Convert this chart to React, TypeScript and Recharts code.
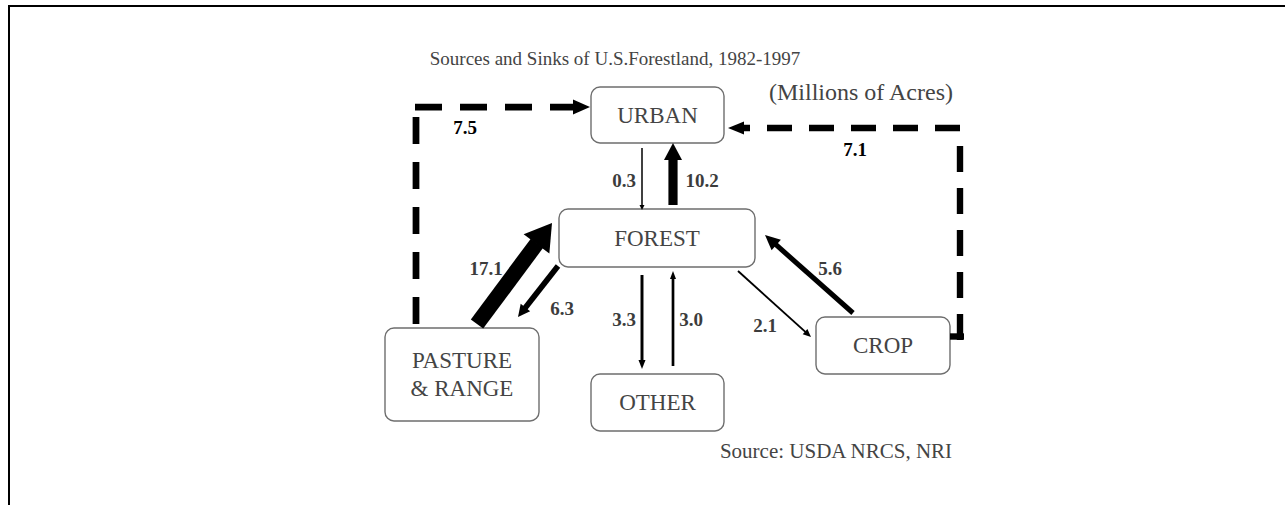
import React from 'react';
import { ComposedChart, XAxis, YAxis, ReferenceArea, ReferenceLine, ReferenceDot } from 'recharts';

// ---------- DATA ----------
const title = 'Sources and Sinks of U.S.Forestland, 1982-1997';
const unitsNote = '(Millions of Acres)';
const sourceNote = 'Source: USDA NRCS, NRI';

const landUses = ['URBAN', 'FOREST', 'PASTURE & RANGE', 'OTHER', 'CROP'];
const landUseLines = [['URBAN'], ['FOREST'], ['PASTURE', '& RANGE'], ['OTHER'], ['CROP']];

const flowFrom = ['FOREST', 'URBAN', 'PASTURE & RANGE', 'CROP', 'PASTURE & RANGE', 'FOREST', 'FOREST', 'OTHER', 'FOREST', 'CROP'];
const flowTo = ['URBAN', 'FOREST', 'URBAN', 'URBAN', 'FOREST', 'PASTURE & RANGE', 'OTHER', 'FOREST', 'CROP', 'FOREST'];
const flowValues = [10.2, 0.3, 7.5, 7.1, 17.1, 6.3, 3.3, 3.0, 2.1, 5.6];
const flowDashed = [false, false, true, true, false, false, false, false, false, false];

// ---------- LAYOUT (diagram coordinates, not data) ----------
const W = 1285;
const H = 505;
const FONT = "'Liberation Serif', 'Times New Roman', Times, serif";

const nodeBoxes: Record<string, [number, number, number, number]> = {
  URBAN: [591, 724, 87, 143],
  FOREST: [559, 755, 209, 267],
  'PASTURE & RANGE': [385, 539, 328, 421],
  OTHER: [591, 724, 374, 431],
  CROP: [816, 950, 317, 374],
};

type Leg = { pts: [[number, number], [number, number]]; head?: [number, number]; dash?: string };
const flowRoutes: Leg[][] = [
  [{ pts: [[673, 205], [673, 143]], head: [17, 18] }],
  [{ pts: [[642, 148], [642, 210]], head: [5, 5] }],
  [
    { pts: [[416, 117], [416, 324]], dash: '27 18' },
    { pts: [[415, 107], [590, 107]], head: [17, 15], dash: '27 18' },
  ],
  [
    { pts: [[950, 336.5], [964, 336.5]] },
    { pts: [[960, 340], [960, 145]], dash: '26 16' },
    { pts: [[960, 128], [728, 128]], head: [16, 13], dash: '25 17' },
  ],
  [{ pts: [[477, 324], [552, 223]], head: [26, 32] }],
  [{ pts: [[558, 266], [518, 317]], head: [12, 12] }],
  [{ pts: [[642, 275], [642, 369]], head: [9, 7] }],
  [{ pts: [[673, 366], [673, 271]], head: [8, 6] }],
  [{ pts: [[738, 271], [811, 337]], head: [8, 7] }],
  [{ pts: [[853, 313], [765, 235]], head: [15, 14] }],
];
const flowLabelPos: [number, number][] = [
  [702, 180], [624, 180], [465, 127], [855, 149], [486, 268],
  [562, 308], [624, 319], [691, 319], [765, 325], [830, 268],
];

const widthFor = (v: number) => Math.max(1.5, v * 0.9);

function arrowShape(w: number, head?: [number, number], dash?: string) {
  return (p: any) => {
    const { x1, y1, x2, y2 } = p;
    if ([x1, y1, x2, y2].some((v) => typeof v !== 'number' || isNaN(v))) return <g />;
    const dx = x2 - x1;
    const dy = y2 - y1;
    const len = Math.hypot(dx, dy) || 1;
    const ux = dx / len;
    const uy = dy / len;
    const nx = -uy;
    const ny = ux;
    const hl = head ? head[0] : 0;
    const hw = head ? head[1] : 0;
    const neckX = x2 - ux * hl;
    const neckY = y2 - uy * hl;
    const ex = head ? neckX + ux * 0.8 : x2;
    const ey = head ? neckY + uy * 0.8 : y2;
    return (
      <g>
        <line x1={x1} y1={y1} x2={ex} y2={ey} stroke="#000" strokeWidth={w} strokeDasharray={dash} strokeLinecap="butt" />
        {head && (
          <polygon
            points={`${x2},${y2} ${neckX + (nx * hw) / 2},${neckY + (ny * hw) / 2} ${neckX - (nx * hw) / 2},${neckY - (ny * hw) / 2}`}
            fill="#000"
          />
        )}
      </g>
    );
  };
}

function textShape(lines: string[], size: number, color: string, weight: string | number = 'normal', lineGap = 28) {
  return (p: any) => {
    const { cx, cy } = p;
    if (typeof cx !== 'number' || typeof cy !== 'number') return <g />;
    const off = ((lines.length - 1) * lineGap) / 2;
    return (
      <g>
        {lines.map((t, i) => (
          <text
            key={i}
            x={cx}
            y={cy - off + i * lineGap}
            textAnchor="middle"
            dominantBaseline="central"
            fontFamily={FONT}
            fontSize={size}
            fontWeight={weight}
            fill={color}
          >
            {t}
          </text>
        ))}
      </g>
    );
  };
}

function boxShape(lines: string[]) {
  return (p: any) => {
    const { x, y, width, height } = p;
    if ([x, y, width, height].some((v) => typeof v !== 'number' || isNaN(v))) return <g />;
    const cx = x + width / 2;
    const cy = y + height / 2;
    const gap = 28;
    const off = ((lines.length - 1) * gap) / 2;
    return (
      <g>
        <rect x={x} y={y} width={width} height={height} rx={9} ry={9} fill="#fff" stroke="#6e6e6e" strokeWidth={1.4} />
        {lines.map((t, i) => (
          <text
            key={i}
            x={cx}
            y={cy - off + i * gap}
            textAnchor="middle"
            dominantBaseline="central"
            fontFamily={FONT}
            fontSize={23}
            fill="#444"
          >
            {t}
          </text>
        ))}
      </g>
    );
  };
}

export default function App() {
  return (
    <div style={{ position: 'absolute', left: 0, top: 0, width: W, height: H, background: '#fff', overflow: 'hidden' }}>
      <div
        style={{
          position: 'absolute',
          left: 8,
          top: 5,
          width: W - 8,
          height: H - 5,
          borderTop: '2px solid #000',
          borderLeft: '2px solid #000',
          boxSizing: 'border-box',
        }}
      />
      <div style={{ position: 'absolute', left: 0, top: 0 }}>
        <ComposedChart width={W} height={H} margin={{ top: 0, right: 0, bottom: 0, left: 0 }} data={[]}>
          <XAxis type="number" dataKey="x" domain={[0, W]} hide allowDataOverflow />
          <YAxis type="number" dataKey="y" domain={[0, H]} reversed hide allowDataOverflow />

          {flowRoutes.map((legs, fi) =>
            legs.map((leg, li) => (
              <ReferenceLine
                key={`f${fi}-${li}`}
                segment={[{ x: leg.pts[0][0], y: leg.pts[0][1] }, { x: leg.pts[1][0], y: leg.pts[1][1] }]}
                ifOverflow="visible"
                shape={arrowShape(widthFor(flowValues[fi]), leg.head, leg.dash)}
              />
            ))
          )}

          {landUses.map((name, i) => {
            const b = nodeBoxes[name];
            return (
              <ReferenceArea
                key={name}
                x1={b[0]}
                x2={b[1]}
                y1={b[2]}
                y2={b[3]}
                ifOverflow="visible"
                shape={boxShape(landUseLines[i])}
              />
            );
          })}

          {flowValues.map((v, i) => (
            <ReferenceDot
              key={`l${i}`}
              x={flowLabelPos[i][0]}
              y={flowLabelPos[i][1]}
              r={0}
              ifOverflow="visible"
              shape={textShape([v.toFixed(1)], 19, flowDashed[i] ? '#000' : '#3c3c3c', 'bold')}
            />
          ))}

          <ReferenceDot x={615} y={58} r={0} ifOverflow="visible" shape={textShape([title], 19, '#444')} />
          <ReferenceDot x={861} y={92} r={0} ifOverflow="visible" shape={textShape([unitsNote], 24, '#444')} />
          <ReferenceDot x={836} y={451} r={0} ifOverflow="visible" shape={textShape([sourceNote], 21, '#444')} />
        </ComposedChart>
      </div>
    </div>
  );
}
